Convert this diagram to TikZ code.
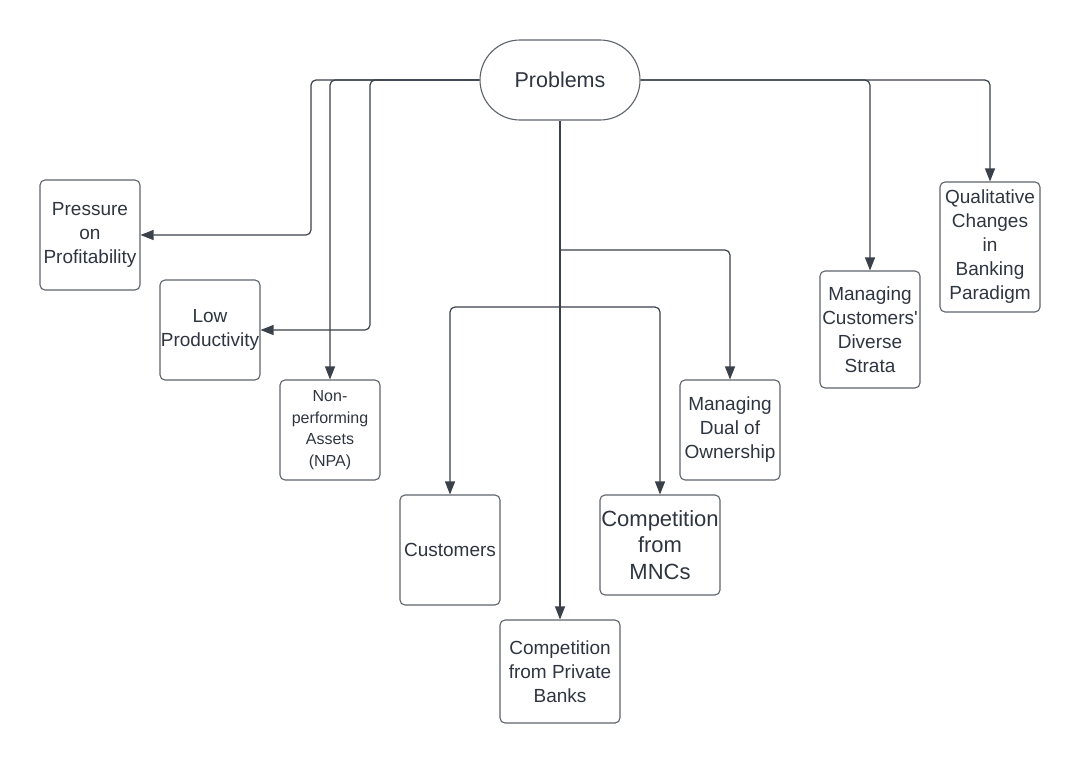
\documentclass[tikz,border=0pt]{standalone}
\usepackage{fontspec}
\setmainfont{Liberation Sans}[Ligatures=TeXOff]
\usetikzlibrary{arrows.meta}
\definecolor{linec}{HTML}{3A414A}
\definecolor{boxc}{HTML}{5E636A}
\definecolor{textc}{HTML}{2E3540}
\tikzset{
  box/.style={draw=boxc, line width=1.1pt, rounded corners=5pt, inner sep=0pt,
    align=center, text=textc, font=\fontsize{19}{24}\selectfont},
  conn/.style={draw=linec, line width=1.2pt, rounded corners=5pt,
    -{Triangle[length=13pt,width=10pt]}},
  plain/.style={draw=linec, line width=1.2pt, rounded corners=5pt}
}
\begin{document}
\begin{tikzpicture}[x=1pt,y=-1pt]
\useasboundingbox (0,0) rectangle (1080,763);
\node[box, rounded corners=40pt, minimum width=160pt, minimum height=80pt,
  font=\fontsize{21.5}{26}\selectfont] (prob) at (560,80) {Problems};
\node[box, minimum width=100pt, minimum height=110pt] (pp) at (90,235) {Pressure\\on\\Profitability};
\node[box, minimum width=100pt, minimum height=100pt] (lp) at (210,330) {Low\\Productivity};
\node[box, minimum width=100pt, minimum height=100pt, font=\fontsize{16}{21.5}\selectfont] (npa) at (330,430) {Non-\\performing\\Assets\\(NPA)};
\node[box, minimum width=100pt, minimum height=110pt] (cust) at (450,550) {Customers};
\node[box, minimum width=120pt, minimum height=103pt] (cpb) at (560,671.5) {Competition\\from Private\\Banks};
\node[box, minimum width=120pt, minimum height=100pt, font=\fontsize{22}{26.5}\selectfont] (mnc) at (660,545) {Competition\\from\\MNCs};
\node[box, minimum width=100pt, minimum height=100pt] (dual) at (730,430) {Managing\\Dual of\\Ownership};
\node[box, minimum width=100pt, minimum height=117pt] (mcd) at (870,329.5) {Managing\\Customers'\\Diverse\\Strata};
\node[box, minimum width=100pt, minimum height=130pt] (qual) at (990,247) {\raisebox{4pt}{\parbox{100pt}{\centering Qualitative\\Changes\\in\\Banking\\Paradigm}}};
% left connectors
\draw[conn] (prob.west) -- (311,80) |- (pp.east);
\draw[conn] (prob.west) -- (330,80) -- (npa.north);
\draw[conn] (prob.west) -- (370,80) |- (lp.east);
% right connectors
\draw[conn] (prob.east) -| (mcd.north);
\draw[conn] (prob.east) -| (qual.north);
% central trunk
\draw[conn] (prob.south) -- (cpb.north);
\draw[conn] (prob.south |- 0,250) -| (dual.north);
\draw[conn] (prob.south |- 0,307) -| (cust.north);
\draw[conn] (prob.south |- 0,307) -| (mnc.north);
\end{tikzpicture}
\end{document}
